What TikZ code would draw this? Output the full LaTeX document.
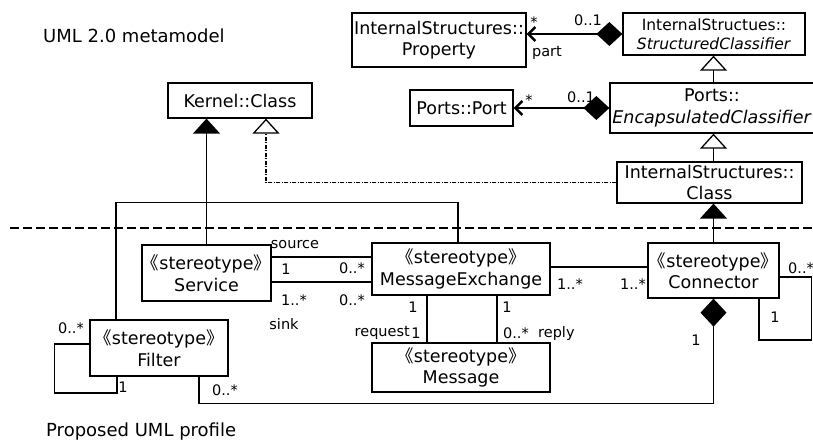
\documentclass[tikz,border=0pt]{standalone}
\usepackage{fontspec}
\setmainfont{DejaVu Sans}
\newfontfamily\cjk{Noto Sans CJK SC}
\usetikzlibrary{arrows.meta}
\newcommand{\stereo}{{\cjk 《}stereotype{\cjk 》}}
\tikzset{
    umlbox/.style={draw, line width=1.3pt, align=center, inner sep=0pt,
        font=\fontsize{17.5}{21.5}\selectfont},
    mult/.style={font=\fontsize{14.5}{16}\selectfont, inner sep=0pt},
    title/.style={font=\fontsize{18}{21}\selectfont, inner sep=0pt, anchor=west},
    assoc/.style={line width=1.3pt},
    genfilled/.style={line width=1.3pt, -{Triangle[length=15pt,width=27pt]}},
    genopen/.style={line width=1.3pt, -{Triangle[open,length=15pt,width=27pt,fill=white]}},
    realize/.style={line width=1.3pt, dash pattern=on 4pt off 1.5pt on 1pt off 1.5pt,
        -{Triangle[open,length=15pt,width=27pt,fill=white,line width=1.3pt]}},
    compose/.style={line width=2.4pt, {Diamond[length=26pt,width=24pt]}-{Straight Barb[length=7pt,width=14pt]}},
    owned/.style={line width=1.3pt, -{Diamond[length=28pt,width=26pt]}}
}
\begin{document}
\begin{tikzpicture}[x=1pt, y=-1pt]
        \useasboundingbox (0,0) rectangle (813,443);
        \clip (0,0) rectangle (813,443);
        \node[title] (meta) at (43, 36) {UML 2.0 metamodel};
        \node[title] (profile) at (46, 432) {Proposed UML profile};
        \node[umlbox, minimum width=174, minimum height=54] (prop) at (439, 40) {InternalStructures::\\Property};
        \node[umlbox, minimum width=182, minimum height=42, font=\fontsize{15.5}{19}\selectfont] (struct) at (714, 34) {InternalStructues::\\\textit{StructuredClassifier}};
        \node[umlbox, minimum width=144, minimum height=35] (kernel) at (240, 100.5) {Kernel::Class};
        \node[umlbox, minimum width=103, minimum height=36] (port) at (461.5, 108) {Ports::Port};
        \node[umlbox, minimum width=204, minimum height=50] (encap) at (712, 108) {Ports::\\\textit{EncapsulatedClassifier}};
        \node[umlbox, minimum width=185, minimum height=41] (isclass) at (709.5, 182.5) {InternalStructures::\\Class};
        \node[umlbox, minimum width=129, minimum height=56] (service) at (206.5, 273) {\stereo\\Service};
        \node[umlbox, minimum width=178, minimum height=52] (mex) at (461, 269) {\stereo\\MessageExchange};
        \node[umlbox, minimum width=138, minimum height=56] (filter) at (159, 348) {\stereo\\Filter};
        \node[umlbox, minimum width=178, minimum height=49] (message) at (461, 367.5) {\stereo\\Message};
        \node[umlbox, minimum width=131, minimum height=55] (connector) at (713.5, 270.5) {\stereo\\Connector};
        \draw[line width=2pt, dash pattern=on 9pt off 4pt] (10, 228) -- (813, 228);
        \draw[compose] (struct.west) -- (struct.west -| prop.east);
        \draw[compose] (encap.west) -- (encap.west -| port.east);
        \draw[genopen] (encap.north -| connector.north) -- (connector.north |- struct.south);
        \draw[genopen] (isclass.north -| connector.north) -- (connector.north |- encap.south);
        \draw[genfilled] (connector.north) -- (connector.north |- isclass.south);
        \draw[genfilled] (service.north) -- (service.north |- kernel.south);
        \draw[realize] (isclass.west) -| ([xshift=26]kernel.south);
        \draw[assoc] ([xshift=-43]filter.north) -- ++(0,-117) -| ([xshift=-3]mex.north);
        \draw[assoc] ([yshift=16]service.east) -- ([yshift=16]service.east -| mex.west);
        \draw[assoc] ([yshift=-9]service.east) -- ([yshift=-9]service.east -| mex.west);
        \draw[assoc] ([yshift=2]mex.east) -- ([yshift=2]mex.east -| connector.west);
        \draw[assoc] ([xshift=-34]mex.south) -- ([xshift=-34]message.north);
        \draw[assoc] ([xshift=36]mex.south) -- ([xshift=36]message.north);
        \draw[assoc] ([yshift=4]filter.west) -- ++(-35,0) -- ++(0,49) -| ([xshift=-42]filter.south);
        \draw[owned] ([xshift=40]filter.south) -- ++(0,27) -| (connector.south);
        \draw[assoc] ([yshift=-6.5]connector.east) -- ++(32,0) -- ++(0,63) -| ([xshift=45.5]connector.south);
        \node[mult] (pstar) at (534, 22) {*};
        \node[mult] (pone) at (588, 20) {0..1};
        \node[mult] (part) at (547, 53) {part};
        \node[mult] (qstar) at (529, 100) {*};
        \node[mult] (qone) at (581, 97) {0..1};
        \node[mult] (source) at (295, 245) {source};
        \node[mult] (srcone) at (286, 269) {1};
        \node[mult] (srcmany) at (352, 268) {0..*};
        \node[mult] (sinkmany) at (294, 300) {1..*};
        \node[mult] (sinkmex) at (352, 300) {0..*};
        \node[mult] (sink) at (284, 324) {sink};
        \node[mult] (fmany) at (71, 328) {0..*};
        \node[mult] (fone) at (123, 387) {1};
        \node[mult] (fconn) at (225, 390) {0..*};
        \node[mult] (reqone) at (413, 307) {1};
        \node[mult, anchor=east] (request) at (410, 333) {request};
        \node[mult] (reqmsg) at (416, 333) {1};
        \node[mult] (repone) at (507, 307) {1};
        \node[mult] (repmany) at (516, 333) {0..*};
        \node[mult, anchor=west] (reply) at (538, 333) {reply};
        \node[mult] (mexconn) at (570, 284) {1..*};
        \node[mult] (connmex) at (633, 284) {1..*};
        \node[mult] (connone) at (696, 340) {1};
        \node[mult, anchor=west] (selfmany) at (788, 268) {0..*};
        \node[mult] (selfone) at (775, 317) {1};
    \end{tikzpicture}
\end{document}
